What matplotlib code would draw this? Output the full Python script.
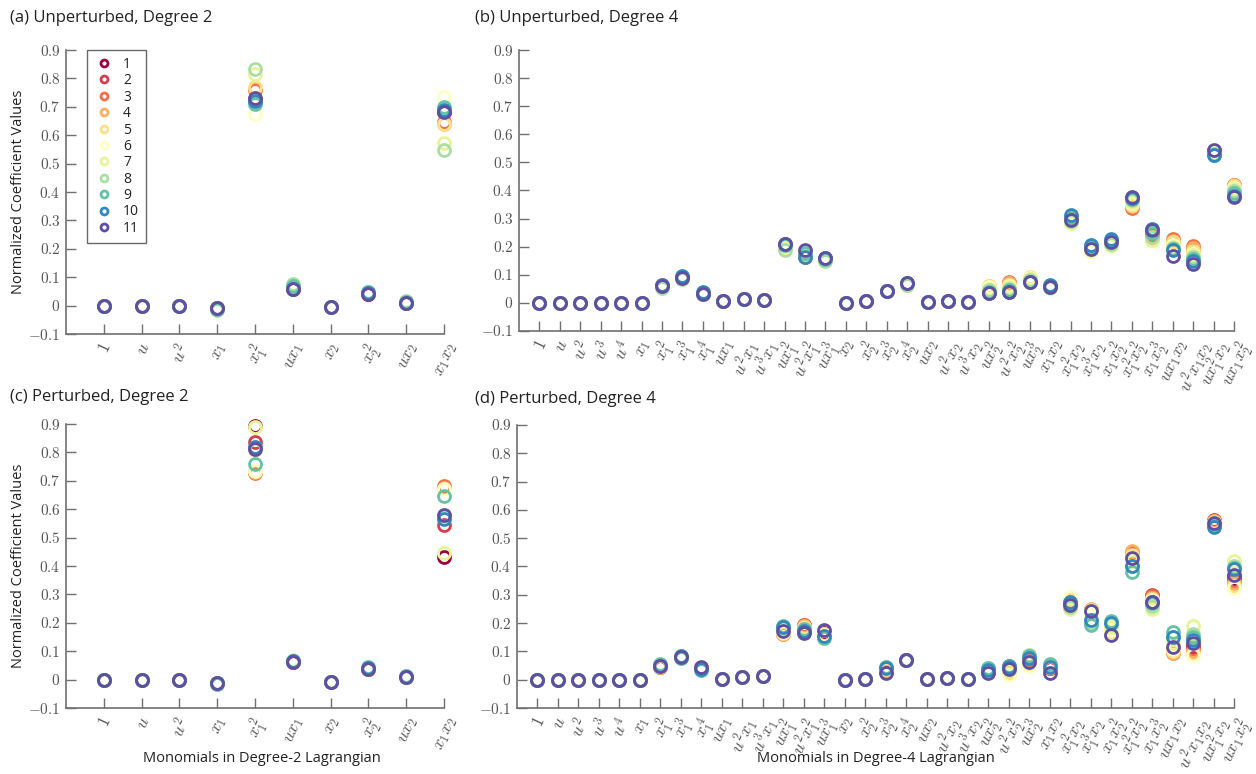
import matplotlib
matplotlib.use("Agg")
import matplotlib.pyplot as plt
import matplotlib.transforms as mtransforms
from matplotlib.lines import Line2D
import numpy as np

plt.rcParams['mathtext.fontset'] = 'cm'
plt.rcParams['font.family'] = ['Open Sans', 'DejaVu Sans']

# ---------------- data ----------------
series_labels = ['1', '2', '3', '4', '5', '6', '7', '8', '9', '10', '11']
series_colors = ['#9e0142', '#d53e4f', '#f46d43', '#fdae61', '#fee08b', '#ffffbf',
                 '#e6f598', '#abdda4', '#66c2a5', '#3288bd', '#5e4fa2']

monomials_deg2 = [r'$1$', r'$u$', r'$u^2$', r'$x_1$', r'$x_1^2$', r'$ux_1$',
                  r'$x_2$', r'$x_2^2$', r'$ux_2$', r'$x_1x_2$']

monomials_deg4 = [r'$1$', r'$u$', r'$u^2$', r'$u^3$', r'$u^4$',
                  r'$x_1$', r'$x_1^2$', r'$x_1^3$', r'$x_1^4$',
                  r'$ux_1$', r'$u^2x_1$', r'$u^3x_1$',
                  r'$ux_1^2$', r'$u^2x_1^2$', r'$ux_1^3$',
                  r'$x_2$', r'$x_2^2$', r'$x_2^3$', r'$x_2^4$',
                  r'$ux_2$', r'$u^2x_2$', r'$u^3x_2$',
                  r'$ux_2^2$', r'$u^2x_2^2$', r'$ux_2^3$',
                  r'$x_1x_2$', r'$x_1^2x_2$', r'$x_1^3x_2$', r'$x_1x_2^2$',
                  r'$x_1^2x_2^2$', r'$x_1x_2^3$',
                  r'$ux_1x_2$', r'$u^2x_1x_2$', r'$ux_1^2x_2$', r'$ux_1x_2^2$']

yticks = [-0.1, 0, 0.1, 0.2, 0.3, 0.4, 0.5, 0.6, 0.7, 0.8, 0.9]
ytick_labels = ['-0.1', '0', '0.1', '0.2', '0.3', '0.4', '0.5', '0.6', '0.7', '0.8', '0.9']

# each row: one monomial, values of series 1..11
unpert_deg2 = [
    [0.000] * 11,
    [0.000] * 11,
    [0.000] * 11,
    [-0.010, -0.010, -0.010, -0.010, -0.010, -0.011, -0.012, -0.014, -0.012, -0.010, -0.010],
    [0.722, 0.727, 0.760, 0.765, 0.768, 0.674, 0.815, 0.832, 0.710, 0.720, 0.730],
    [0.060, 0.060, 0.060, 0.062, 0.063, 0.065, 0.070, 0.076, 0.068, 0.060, 0.058],
    [-0.005] * 11,
    [0.042, 0.042, 0.043, 0.044, 0.045, 0.046, 0.047, 0.048, 0.048, 0.045, 0.042],
    [0.009, 0.009, 0.009, 0.010, 0.011, 0.012, 0.013, 0.015, 0.013, 0.010, 0.009],
    [0.680, 0.682, 0.645, 0.638, 0.640, 0.736, 0.571, 0.548, 0.700, 0.690, 0.681],
]

unpert_deg4 = [
    [0.000] * 11,
    [0.000] * 11,
    [0.000] * 11,
    [0.000] * 11,
    [0.000] * 11,
    [0.000] * 11,
    [0.060, 0.060, 0.062, 0.062, 0.060, 0.058, 0.055, 0.054, 0.060, 0.065, 0.061],
    [0.088, 0.088, 0.090, 0.090, 0.090, 0.088, 0.086, 0.085, 0.092, 0.096, 0.090],
    [0.033, 0.033, 0.033, 0.034, 0.034, 0.033, 0.033, 0.033, 0.036, 0.038, 0.033],
    [0.006] * 11,
    [0.013] * 11,
    [0.011] * 11,
    [0.205, 0.205, 0.208, 0.210, 0.205, 0.200, 0.195, 0.190, 0.205, 0.210, 0.211],
    [0.168, 0.165, 0.168, 0.170, 0.170, 0.170, 0.172, 0.175, 0.177, 0.162, 0.190],
    [0.158, 0.158, 0.158, 0.156, 0.155, 0.152, 0.150, 0.150, 0.155, 0.160, 0.159],
    [0.000] * 11,
    [0.007] * 11,
    [0.043] * 11,
    [0.068, 0.068, 0.068, 0.066, 0.066, 0.065, 0.065, 0.065, 0.070, 0.072, 0.070],
    [0.002] * 11,
    [0.006] * 11,
    [0.004] * 11,
    [0.045, 0.048, 0.055, 0.060, 0.060, 0.055, 0.050, 0.045, 0.040, 0.036, 0.034],
    [0.055, 0.065, 0.073, 0.070, 0.065, 0.060, 0.055, 0.050, 0.045, 0.040, 0.038],
    [0.080, 0.082, 0.085, 0.090, 0.093, 0.090, 0.085, 0.080, 0.075, 0.073, 0.073],
    [0.058, 0.058, 0.058, 0.058, 0.056, 0.054, 0.053, 0.055, 0.058, 0.062, 0.058],
    [0.298, 0.298, 0.296, 0.292, 0.288, 0.285, 0.285, 0.290, 0.305, 0.313, 0.296],
    [0.195, 0.195, 0.196, 0.190, 0.185, 0.185, 0.188, 0.192, 0.200, 0.206, 0.192],
    [0.218, 0.218, 0.215, 0.210, 0.205, 0.203, 0.205, 0.210, 0.220, 0.227, 0.216],
    [0.355, 0.350, 0.337, 0.345, 0.350, 0.355, 0.360, 0.365, 0.370, 0.375, 0.378],
    [0.245, 0.243, 0.240, 0.232, 0.225, 0.220, 0.225, 0.235, 0.250, 0.262, 0.258],
    [0.215, 0.220, 0.226, 0.222, 0.215, 0.205, 0.200, 0.195, 0.192, 0.190, 0.166],
    [0.190, 0.195, 0.202, 0.195, 0.185, 0.175, 0.170, 0.162, 0.155, 0.148, 0.137],
    [0.540, 0.540, 0.540, 0.538, 0.535, 0.532, 0.530, 0.530, 0.528, 0.525, 0.544],
    [0.415, 0.418, 0.420, 0.418, 0.415, 0.410, 0.405, 0.398, 0.390, 0.382, 0.378],
]

pert_deg2 = [
    [0.000] * 11,
    [0.000] * 11,
    [0.000] * 11,
    [-0.013, -0.013, -0.013, -0.013, -0.012, -0.012, -0.013, -0.014, -0.015, -0.013, -0.013],
    [0.894, 0.838, 0.729, 0.732, 0.810, 0.735, 0.888, 0.820, 0.758, 0.820, 0.811],
    [0.063, 0.063, 0.063, 0.064, 0.065, 0.066, 0.068, 0.067, 0.066, 0.064, 0.063],
    [-0.007, -0.007, -0.007, -0.007, -0.007, -0.007, -0.008, -0.009, -0.009, -0.007, -0.007],
    [0.038, 0.038, 0.038, 0.039, 0.040, 0.040, 0.041, 0.042, 0.043, 0.040, 0.038],
    [0.009, 0.009, 0.009, 0.009, 0.010, 0.010, 0.011, 0.012, 0.011, 0.010, 0.009],
    [0.432, 0.545, 0.680, 0.675, 0.580, 0.670, 0.447, 0.575, 0.645, 0.565, 0.578],
]

pert_deg4 = [
    [0.000] * 11,
    [0.000] * 11,
    [0.000] * 11,
    [0.000] * 11,
    [0.000] * 11,
    [0.000] * 11,
    [0.045, 0.046, 0.045, 0.046, 0.047, 0.048, 0.050, 0.052, 0.055, 0.050, 0.047],
    [0.080, 0.080, 0.080, 0.081, 0.082, 0.082, 0.080, 0.078, 0.078, 0.082, 0.081],
    [0.042, 0.042, 0.043, 0.043, 0.042, 0.040, 0.038, 0.036, 0.034, 0.037, 0.044],
    [0.001] * 11,
    [0.009] * 11,
    [0.012] * 11,
    [0.170, 0.165, 0.160, 0.160, 0.165, 0.170, 0.175, 0.182, 0.190, 0.185, 0.172],
    [0.190, 0.193, 0.195, 0.190, 0.185, 0.180, 0.178, 0.176, 0.180, 0.172, 0.164],
    [0.165, 0.163, 0.160, 0.160, 0.160, 0.158, 0.155, 0.152, 0.148, 0.155, 0.176],
    [0.000] * 11,
    [0.003] * 11,
    [0.030, 0.032, 0.033, 0.035, 0.037, 0.040, 0.042, 0.045, 0.046, 0.040, 0.022],
    [0.070] * 11,
    [0.001] * 11,
    [0.005] * 11,
    [0.003] * 11,
    [0.028, 0.030, 0.030, 0.032, 0.034, 0.036, 0.038, 0.040, 0.040, 0.035, 0.022],
    [0.047, 0.045, 0.040, 0.030, 0.022, 0.017, 0.035, 0.045, 0.050, 0.045, 0.039],
    [0.070, 0.072, 0.068, 0.062, 0.055, 0.050, 0.080, 0.087, 0.085, 0.075, 0.064],
    [0.040, 0.040, 0.042, 0.044, 0.046, 0.048, 0.050, 0.052, 0.055, 0.045, 0.025],
    [0.270, 0.272, 0.275, 0.280, 0.285, 0.293, 0.250, 0.258, 0.268, 0.275, 0.264],
    [0.245, 0.246, 0.248, 0.250, 0.245, 0.230, 0.210, 0.200, 0.193, 0.210, 0.244],
    [0.165, 0.165, 0.163, 0.162, 0.165, 0.175, 0.185, 0.198, 0.209, 0.200, 0.158],
    [0.445, 0.448, 0.450, 0.455, 0.440, 0.430, 0.420, 0.400, 0.382, 0.402, 0.429],
    [0.295, 0.300, 0.295, 0.290, 0.285, 0.280, 0.249, 0.260, 0.270, 0.275, 0.274],
    [0.100, 0.100, 0.095, 0.093, 0.100, 0.110, 0.130, 0.150, 0.170, 0.150, 0.114],
    [0.115, 0.118, 0.110, 0.100, 0.092, 0.087, 0.190, 0.160, 0.150, 0.140, 0.131],
    [0.560, 0.565, 0.562, 0.560, 0.558, 0.555, 0.550, 0.548, 0.545, 0.540, 0.555],
    [0.360, 0.365, 0.350, 0.340, 0.330, 0.323, 0.420, 0.400, 0.395, 0.390, 0.370],
]

# ---------------- figure ----------------
W, H = 1256, 774
fig = plt.figure(figsize=(W / 100, H / 100), dpi=100)

def px_axes(left, top, right, bottom):
    return fig.add_axes([left / W, 1 - bottom / H, (right - left) / W, (bottom - top) / H])

axis_col = '#707070'
text_col = '#555555'

def style_axis(ax, labels, ylabel=None):
    n = len(labels)
    ax.set_xlim(0, n)
    ax.set_ylim(-0.1, 0.9)
    for s in ['top', 'right']:
        ax.spines[s].set_visible(False)
    for s in ['left', 'bottom']:
        ax.spines[s].set_color(axis_col)
        ax.spines[s].set_linewidth(1.2)
    ax.set_yticks(yticks)
    ax.set_yticklabels(['$' + t + '$' for t in ytick_labels], fontsize=11, color=text_col)
    ax.set_xticks(np.arange(1, n + 1))
    ax.set_xticklabels(labels, rotation=65, ha='center', va='top', fontsize=12.5, color=text_col)
    ax.tick_params(axis='both', direction='in', length=7, width=1, color=axis_col)
    ax.tick_params(axis='x', pad=5)
    ax.tick_params(axis='y', pad=4)
    offset = mtransforms.ScaledTranslation(2 / 100, 0, fig.dpi_scale_trans)
    for lab in ax.get_xticklabels():
        lab.set_transform(lab.get_transform() + offset)
    if ylabel:
        ax.set_ylabel(ylabel, fontsize=10.5, color='#222222')
        ax.yaxis.set_label_coords((26 - 66) / 378, 0.5)

def plot_panel(ax, data):
    arr = np.array(data)  # monomials x series
    xs = np.arange(1, arr.shape[0] + 1)
    for k in range(arr.shape[1]):
        ax.plot(xs, arr[:, k], linestyle='none', marker='o', markersize=8.6,
                markerfacecolor='none', markeredgecolor=series_colors[k],
                markeredgewidth=2.0, label=series_labels[k], clip_on=False)

ax_a = px_axes(66, 50, 444, 334)
ax_b = px_axes(519, 50, 1234, 331)
ax_c = px_axes(66, 424, 444, 708)
ax_d = px_axes(517, 425, 1234, 708)

plot_panel(ax_a, unpert_deg2)
plot_panel(ax_b, unpert_deg4)
plot_panel(ax_c, pert_deg2)
plot_panel(ax_d, pert_deg4)

style_axis(ax_a, monomials_deg2, 'Normalized Coefficient Values')
style_axis(ax_b, monomials_deg4)
style_axis(ax_c, monomials_deg2, 'Normalized Coefficient Values')
style_axis(ax_d, monomials_deg4)

# legend with smaller markers
leg_handles = [Line2D([], [], linestyle='none', marker='o', markersize=5,
                      markerfacecolor='none', markeredgecolor=c, markeredgewidth=2.0)
               for c in series_colors]
leg = ax_a.legend(leg_handles, series_labels, loc='upper left',
                  bbox_to_anchor=((87 - 66) / 378, 1.0), borderaxespad=0,
                  fontsize=10, labelspacing=0.1, handlelength=1.5, handletextpad=0.6,
                  borderpad=0.5, fancybox=False, frameon=True)
leg.get_frame().set_edgecolor('#444444')
leg.get_frame().set_linewidth(1.0)
for t in leg.get_texts():
    t.set_color('#222222')

# panel titles
title_kw = dict(fontsize=12, color='#222222', ha='left', va='center')
fig.text(10 / W, 1 - 18 / H, '(a) Unperturbed, Degree 2', **title_kw)
fig.text(475 / W, 1 - 18 / H, '(b) Unperturbed, Degree 4', **title_kw)
fig.text(10 / W, 1 - 397 / H, '(c) Perturbed, Degree 2', **title_kw)
fig.text(475 / W, 1 - 399 / H, '(d) Perturbed, Degree 4', **title_kw)

# x labels
fig.text(262 / W, 1 - 758 / H, 'Monomials in Degree-2 Lagrangian', fontsize=10.5,
         color='#222222', ha='center', va='center')
fig.text(876 / W, 1 - 758 / H, 'Monomials in Degree-4 Lagrangian', fontsize=10.5,
         color='#222222', ha='center', va='center')

fig.savefig('out.png', dpi=100)
